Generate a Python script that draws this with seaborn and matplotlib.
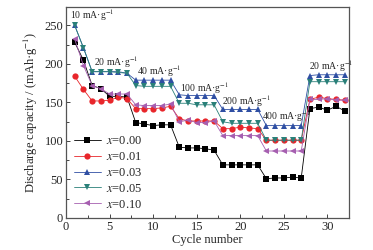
import numpy as np
import pandas as pd
import matplotlib
matplotlib.use("Agg")
import matplotlib.pyplot as plt
import seaborn as sns
from matplotlib.ticker import MultipleLocator

sns.set_style("ticks")
plt.rcParams['font.family'] = ['Liberation Serif', 'DejaVu Serif']
plt.rcParams['mathtext.fontset'] = 'stix'

cycles = list(range(1, 33))
labels = ["0.00", "0.01", "0.03", "0.05", "0.10"]
cap_000 = [228, 205, 172, 168, 158, 158, 157, 124, 122, 120, 121, 121,
           92, 91, 91, 90, 88, 69, 69, 69, 69, 69, 51, 52, 52, 53, 52,
           142, 144, 140, 145, 139]
cap_001 = [184, 167, 152, 152, 153, 157, 155, 142, 142, 142, 143, 145,
           129, 126, 126, 126, 126, 116, 116, 118, 117, 116, 101, 101, 101, 101, 101,
           154, 157, 155, 154, 153]
cap_003 = [250, 221, 190, 190, 190, 190, 188, 179, 179, 179, 179, 179,
           160, 159, 159, 159, 159, 141, 141, 141, 141, 141, 120, 120, 120, 120, 120,
           185, 186, 186, 186, 186]
cap_005 = [250, 221, 190, 190, 190, 189, 188, 172, 171, 171, 171, 171,
           149, 149, 147, 147, 147, 125, 123, 123, 123, 123, 101, 101, 101, 101, 101,
           177, 177, 177, 177, 177]
cap_010 = [232, 198, 172, 168, 161, 161, 161, 147, 146, 146, 146, 148,
           125, 127, 124, 124, 126, 107, 107, 107, 107, 107, 87, 87, 87, 87, 87,
           154, 154, 155, 153, 153]
rates = ["10 mA·g$^{-1}$", "20 mA·g$^{-1}$", "40 mA·g$^{-1}$", "100 mA·g$^{-1}$",
         "200 mA·g$^{-1}$", "400 mA·g$^{-1}$", "20 mA·g$^{-1}$"]

series = [cap_000, cap_001, cap_003, cap_005, cap_010]
rows = []
for lab, vals in zip(labels, series):
    for c, v in zip(cycles, vals):
        rows.append({"cycle": c, "cap": v, "x": "$x$=" + lab})
df = pd.DataFrame(rows)

colors = ["#000000", "#e8262b", "#2f4fa3", "#2a8079", "#a65fb0"]
markers = ["s", "o", "^", "v", "<"]
hue_order = ["$x$=" + l for l in labels]

fig = plt.figure(figsize=(3.73, 2.5), dpi=100)
ax = fig.add_axes([0.177, 0.128, 0.759, 0.844])
sns.lineplot(data=df, x="cycle", y="cap", hue="x", style="x", hue_order=hue_order,
             style_order=hue_order, palette=colors, markers=markers, dashes=False,
             markersize=4.5, markeredgewidth=0, linewidth=0.6, ax=ax, legend=True)

ax.set_xlim(0, 32.5)
ax.set_ylim(0, 274)
ax.xaxis.set_major_locator(MultipleLocator(5))
ax.xaxis.set_minor_locator(MultipleLocator(2.5))
ax.yaxis.set_major_locator(MultipleLocator(50))
ax.yaxis.set_minor_locator(MultipleLocator(25))
ax.tick_params(which="both", direction="in", labelsize=9, pad=2)
ax.tick_params(which="major", length=3, width=0.6)
ax.tick_params(which="minor", length=2, width=0.6)
for s in ax.spines.values():
    s.set_linewidth(0.9)
    s.set_color("#555555")
ax.set_xlabel("Cycle number", fontsize=9, labelpad=1)
ax.set_ylabel("Discharge capacity / (mAh·g$^{-1}$)", fontsize=9, labelpad=3)

leg = ax.legend(loc="lower left", bbox_to_anchor=(0.0, 0.0), frameon=False,
                fontsize=9, handlelength=2.2, labelspacing=0.3, handletextpad=0.4,
                borderaxespad=0.4, borderpad=0.2)

ann_pos = [(0.4, 263), (3.2, 202), (8.1, 191), (13.1, 169), (17.9, 152), (22.5, 132.5), (27.9, 197)]
for t, (xx, yy) in zip(rates, ann_pos):
    ax.text(xx, yy, t, fontsize=7, ha="left", va="center")

fig.savefig("out.png", dpi=100)
